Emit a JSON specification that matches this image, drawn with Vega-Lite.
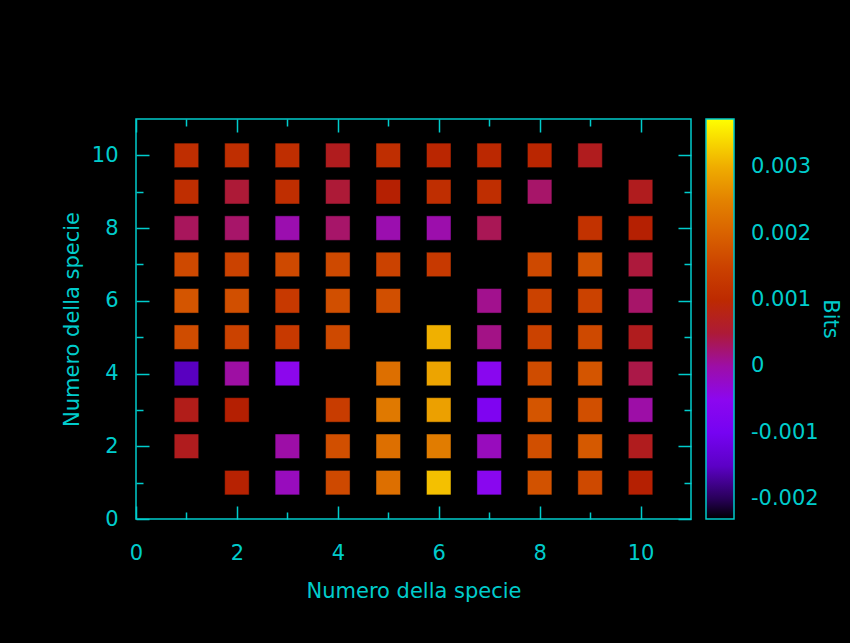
{
  "$schema": "https://vega.github.io/schema/vega-lite/v6.json",
  "width": 555,
  "height": 400,
  "autosize": {"type": "none"},
  "padding": {"left": 136, "top": 119, "right": 159, "bottom": 124},
  "background": "black",
  "config": {
    "font": "DejaVu Sans",
    "view": {"stroke": "#00cccc", "strokeWidth": 1.5},
    "axis": {
      "domain": false,
      "grid": false,
      "labelColor": "#00cccc",
      "titleColor": "#00cccc",
      "labelFont": "DejaVu Sans",
      "titleFont": "DejaVu Sans",
      "labelFontSize": 21,
      "titleFontSize": 21,
      "titleFontWeight": "normal",
      "tickColor": "#00cccc",
      "tickWidth": 1.5,
      "labelFlush": false
    },
    "legend": {
      "orient": "right",
      "offset": 14,
      "gradientLength": 400,
      "gradientThickness": 28,
      "gradientStrokeColor": "#00cccc",
      "gradientStrokeWidth": 1.5,
      "labelColor": "#00cccc",
      "labelFont": "DejaVu Sans",
      "labelFontSize": 21,
      "titleColor": "#00cccc",
      "titleFont": "DejaVu Sans",
      "titleFontSize": 21,
      "titleFontWeight": "normal",
      "titleOrient": "right",
      "titleAnchor": "middle",
      "titleAngle": 270
    }
  },
  "data": {
    "values": [
      {"x": 1, "y": 10, "bits": 0.0011},
      {"x": 2, "y": 10, "bits": 0.0011},
      {"x": 3, "y": 10, "bits": 0.0011},
      {"x": 4, "y": 10, "bits": 0.0006},
      {"x": 5, "y": 10, "bits": 0.0011},
      {"x": 6, "y": 10, "bits": 0.0009},
      {"x": 7, "y": 10, "bits": 0.00095},
      {"x": 8, "y": 10, "bits": 0.0009},
      {"x": 9, "y": 10, "bits": 0.0006},
      {"x": 1, "y": 9, "bits": 0.0011},
      {"x": 2, "y": 9, "bits": 0.0005},
      {"x": 3, "y": 9, "bits": 0.0011},
      {"x": 4, "y": 9, "bits": 0.0005},
      {"x": 5, "y": 9, "bits": 0.00075},
      {"x": 6, "y": 9, "bits": 0.0011},
      {"x": 7, "y": 9, "bits": 0.0011},
      {"x": 8, "y": 9, "bits": 0.0003},
      {"x": 10, "y": 9, "bits": 0.0006},
      {"x": 1, "y": 8, "bits": 0.00035},
      {"x": 2, "y": 8, "bits": 0.0003},
      {"x": 3, "y": 8, "bits": -0.00005},
      {"x": 4, "y": 8, "bits": 0.0003},
      {"x": 5, "y": 8, "bits": -0.00005},
      {"x": 6, "y": 8, "bits": -0.00003},
      {"x": 7, "y": 8, "bits": 0.00038},
      {"x": 9, "y": 8, "bits": 0.0012},
      {"x": 10, "y": 8, "bits": 0.00075},
      {"x": 1, "y": 7, "bits": 0.0016},
      {"x": 2, "y": 7, "bits": 0.0015},
      {"x": 3, "y": 7, "bits": 0.0016},
      {"x": 4, "y": 7, "bits": 0.0016},
      {"x": 5, "y": 7, "bits": 0.0015},
      {"x": 6, "y": 7, "bits": 0.00135},
      {"x": 8, "y": 7, "bits": 0.0016},
      {"x": 9, "y": 7, "bits": 0.00175},
      {"x": 10, "y": 7, "bits": 0.00048},
      {"x": 1, "y": 6, "bits": 0.0018},
      {"x": 2, "y": 6, "bits": 0.0017},
      {"x": 3, "y": 6, "bits": 0.00135},
      {"x": 4, "y": 6, "bits": 0.0017},
      {"x": 5, "y": 6, "bits": 0.0017},
      {"x": 7, "y": 6, "bits": 0.00015},
      {"x": 8, "y": 6, "bits": 0.0015},
      {"x": 9, "y": 6, "bits": 0.0015},
      {"x": 10, "y": 6, "bits": 0.0003},
      {"x": 1, "y": 5, "bits": 0.00165},
      {"x": 2, "y": 5, "bits": 0.0015},
      {"x": 3, "y": 5, "bits": 0.00135},
      {"x": 4, "y": 5, "bits": 0.0016},
      {"x": 6, "y": 5, "bits": 0.00305},
      {"x": 7, "y": 5, "bits": 0.00018},
      {"x": 8, "y": 5, "bits": 0.0015},
      {"x": 9, "y": 5, "bits": 0.0016},
      {"x": 10, "y": 5, "bits": 0.0006},
      {"x": 1, "y": 4, "bits": -0.00155},
      {"x": 2, "y": 4, "bits": 0.00003},
      {"x": 3, "y": 4, "bits": -0.00048},
      {"x": 5, "y": 4, "bits": 0.0022},
      {"x": 6, "y": 4, "bits": 0.0029},
      {"x": 7, "y": 4, "bits": -0.00055},
      {"x": 8, "y": 4, "bits": 0.00165},
      {"x": 9, "y": 4, "bits": 0.0018},
      {"x": 10, "y": 4, "bits": 0.00043},
      {"x": 1, "y": 3, "bits": 0.00062},
      {"x": 2, "y": 3, "bits": 0.00072},
      {"x": 4, "y": 3, "bits": 0.0014},
      {"x": 5, "y": 3, "bits": 0.00235},
      {"x": 6, "y": 3, "bits": 0.00285},
      {"x": 7, "y": 3, "bits": -0.0008},
      {"x": 8, "y": 3, "bits": 0.0018},
      {"x": 9, "y": 3, "bits": 0.0017},
      {"x": 10, "y": 3, "bits": 0.0},
      {"x": 1, "y": 2, "bits": 0.0006},
      {"x": 3, "y": 2, "bits": 0.0},
      {"x": 4, "y": 2, "bits": 0.0017},
      {"x": 5, "y": 2, "bits": 0.0022},
      {"x": 6, "y": 2, "bits": 0.0024},
      {"x": 7, "y": 2, "bits": -0.00015},
      {"x": 8, "y": 2, "bits": 0.0017},
      {"x": 9, "y": 2, "bits": 0.00185},
      {"x": 10, "y": 2, "bits": 0.0006},
      {"x": 2, "y": 1, "bits": 0.0008},
      {"x": 3, "y": 1, "bits": -0.00015},
      {"x": 4, "y": 1, "bits": 0.0016},
      {"x": 5, "y": 1, "bits": 0.0022},
      {"x": 6, "y": 1, "bits": 0.0032},
      {"x": 7, "y": 1, "bits": -0.00055},
      {"x": 8, "y": 1, "bits": 0.00175},
      {"x": 9, "y": 1, "bits": 0.0016},
      {"x": 10, "y": 1, "bits": 0.00075}
    ]
  },
  "layer": [
    {
      "mark": {"type": "square", "size": 600, "filled": true, "opacity": 1, "stroke": "black", "strokeOpacity": 0.45, "strokeWidth": 1},
      "encoding": {
        "x": {
          "field": "x", "type": "quantitative",
          "scale": {"domain": [0, 11], "nice": false, "zero": false},
          "axis": {
            "orient": "bottom",
            "title": "Numero della specie",
            "values": [0, 1, 2, 3, 4, 5, 6, 7, 8, 9, 10],
            "tickSize": {"condition": {"test": "datum.value % 2 === 0", "value": -13}, "value": -7},
            "labelExpr": "datum.value % 2 === 0 ? datum.label : ''",
            "labelPadding": 36,
            "titlePadding": 17
          }
        },
        "y": {
          "field": "y", "type": "quantitative",
          "scale": {"domain": [0, 11], "nice": false, "zero": false},
          "axis": {
            "orient": "left",
            "title": "Numero della specie",
            "values": [0, 1, 2, 3, 4, 5, 6, 7, 8, 9, 10],
            "tickSize": {"condition": {"test": "datum.value % 2 === 0", "value": -13}, "value": -7},
            "labelExpr": "datum.value % 2 === 0 ? datum.label : ''",
            "labelPadding": 31,
            "titlePadding": 9
          }
        },
        "color": {
          "field": "bits", "type": "quantitative",
          "scale": {
            "domain": [-0.0023, -0.001697, -0.001094, -0.000491, 0.000112, 0.000715, 0.001318, 0.001921, 0.002524, 0.003127, 0.00373],
            "range": ["#000000", "#5100b0", "#7202f3", "#8c07ef", "#a11097", "#b41f02", "#c63700", "#d75d00", "#e48400", "#f2b700", "#ffff00"],
            "interpolate": "rgb"
          },
          "legend": {
            "title": "Bits",
            "values": [-0.002, -0.001, 0, 0.001, 0.002, 0.003],
            "labelOffset": 17,
            "titlePadding": 1,
            "labelExpr": "datum.value == 0 ? '0' : (datum.value < 0 ? '-' : '') + format(abs(datum.value), '.3f')"
          }
        }
      }
    },
    {
      "mark": {"type": "square", "size": 600, "opacity": 0},
      "encoding": {
        "x": {
          "field": "x", "type": "quantitative",
          "scale": {"domain": [0, 11], "nice": false, "zero": false},
          "axis": {
            "orient": "top",
            "title": null,
            "labels": false,
            "values": [0, 1, 2, 3, 4, 5, 6, 7, 8, 9, 10],
            "tickSize": {"condition": {"test": "datum.value % 2 === 0", "value": -13}, "value": -7}
          }
        },
        "y": {
          "field": "y", "type": "quantitative",
          "scale": {"domain": [0, 11], "nice": false, "zero": false},
          "axis": {
            "orient": "right",
            "title": null,
            "labels": false,
            "values": [0, 1, 2, 3, 4, 5, 6, 7, 8, 9, 10],
            "tickSize": {"condition": {"test": "datum.value % 2 === 0", "value": -13}, "value": -7}
          }
        }
      }
    }
  ],
  "resolve": {"scale": {"x": "independent", "y": "independent"}}
}
